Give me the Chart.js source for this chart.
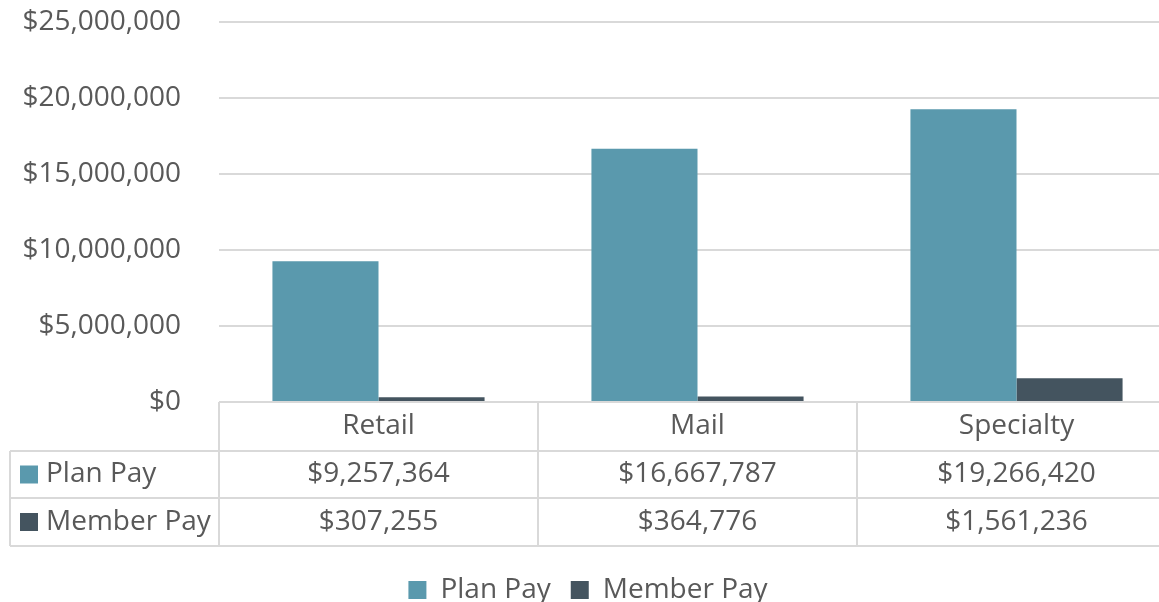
<!DOCTYPE html>
<html>
<head>
<meta charset="utf-8">
<script src="https://cdn.jsdelivr.net/npm/chart.js@4/dist/chart.umd.min.js"></script>
<style>
  html, body { margin: 0; padding: 0; background: #fff; overflow: hidden; }
  #wrap { width: 1159px; height: 602px; overflow: hidden; }
  #box { width: 1180px; height: 602px; }
</style>
</head>
<body>
<div id="wrap"><div id="box"><canvas id="payChart"></canvas></div></div>
<script>
const categories = ['Retail', 'Mail', 'Specialty'];
const planPay = [9257364, 16667787, 19266420];
const memberPay = [307255, 364776, 1561236];
const seriesNames = ['Plan Pay', 'Member Pay'];

const FONT = "'Open Sans', sans-serif";
const TEXT = '#595959';
const LINE = '#d9d9d9';

function money(v) {
  return '$' + Math.round(v).toLocaleString('en-US');
}

// draws the data table under the plot, using the x scale for column positions
const dataTable = {
  id: 'dataTable',
  afterDraw(chart) {
    const { ctx, chartArea, scales: { x } } = chart;
    const top = chartArea.bottom;
    const rows = [top, top + 49, top + 96, top + 144];
    const half = (x.getPixelForValue(1) - x.getPixelForValue(0)) / 2;
    const left = 10;
    const right = chartArea.right;

    ctx.save();
    ctx.strokeStyle = LINE;
    ctx.lineWidth = 2;
    ctx.beginPath();
    ctx.moveTo(chartArea.left, rows[0]); ctx.lineTo(right, rows[0]);
    for (let r = 1; r < rows.length; r++) {
      ctx.moveTo(left, rows[r]); ctx.lineTo(right, rows[r]);
    }
    ctx.moveTo(left, rows[1]); ctx.lineTo(left, rows[3]);
    for (let i = 0; i <= categories.length; i++) {
      const px = i < categories.length ? x.getPixelForValue(i) - half : x.getPixelForValue(i - 1) + half;
      ctx.moveTo(px, rows[0]); ctx.lineTo(px, rows[3]);
    }
    ctx.stroke();

    ctx.fillStyle = TEXT;
    ctx.font = '28px ' + FONT;
    ctx.textAlign = 'center';
    ctx.textBaseline = 'middle';
    const values = [planPay, memberPay];
    categories.forEach((c, i) => {
      const cx = x.getPixelForValue(i);
      ctx.fillText(c, cx, (rows[0] + rows[1]) / 2);
      ctx.fillText(money(values[0][i]), cx, (rows[1] + rows[2]) / 2);
      ctx.fillText(money(values[1][i]), cx, (rows[2] + rows[3]) / 2);
    });

    ctx.textAlign = 'left';
    seriesNames.forEach((name, r) => {
      const cy = (rows[r + 1] + rows[r + 2]) / 2;
      ctx.fillStyle = chart.data.datasets[r].backgroundColor;
      ctx.fillRect(20, cy - 9, 18, 18);
      ctx.fillStyle = TEXT;
      ctx.fillText(name, 46, cy);
    });
    ctx.restore();
  }
};

new Chart(document.getElementById('payChart').getContext('2d'), {
  type: 'bar',
  data: {
    labels: categories,
    datasets: [{
      label: seriesNames[0],
      data: planPay,
      backgroundColor: '#5a99ad',
    }, {
      label: seriesNames[1],
      data: memberPay,
      backgroundColor: '#44545f',
    }]
  },
  options: {
    responsive: true,
    maintainAspectRatio: false,
    animation: false,
    datasets: {
      bar: {
        categoryPercentage: 0.665,
        barPercentage: 1.0,
      }
    },
    layout: {
      padding: { top: 22, right: 4, left: 0, bottom: -12 }
    },
    plugins: {
      tooltip: { enabled: false },
      legend: {
        display: true,
        position: 'bottom',
        labels: {
          color: TEXT,
          boxWidth: 18,
          boxHeight: 18,
          padding: 20,
          font: { family: FONT, size: 28 },
        }
      },
    },
    scales: {
      x: {
        grid: { display: false },
        border: { display: false },
        ticks: { display: false },
        afterFit(axis) { axis.height = 154; },
      },
      y: {
        min: 0,
        max: 25000000,
        grid: { color: LINE, lineWidth: 2, drawTicks: false },
        border: { display: false },
        ticks: {
          stepSize: 5000000,
          color: TEXT,
          padding: 38,
          font: { family: FONT, size: 28 },
          callback: (v) => money(v),
        },
        afterFit(axis) {
          axis.width = 219;
          axis.paddingTop = 0;
          axis.paddingBottom = 0;
        },
      }
    },
  },
  plugins: [dataTable]
});
</script>
</body>
</html>
